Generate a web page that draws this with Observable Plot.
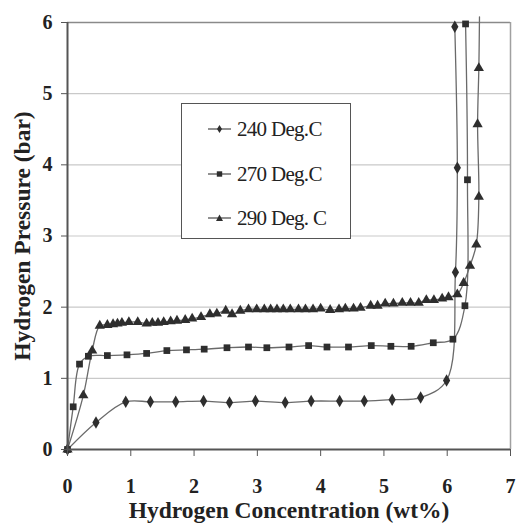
<!DOCTYPE html>
<html>
<head>
<meta charset="utf-8">
<script src="https://cdn.jsdelivr.net/npm/d3@7"></script>
<script src="https://cdn.jsdelivr.net/npm/@observablehq/plot@0.6"></script>
<style>
  body { margin: 0; background: #fff; }
  #chart { position: relative; width: 516px; height: 523px; }
  .legend {
    position: absolute; left: 181px; top: 103px; width: 170px; height: 136px;
    border: 1.5px solid #555; background: #fff; box-sizing: border-box;
    font-family: "Liberation Serif", "Times New Roman", serif; font-size: 21px; color: #222;
  }
  .legend .row { position: absolute; left: 26px; display: flex; align-items: center; height: 24px; letter-spacing: -0.7px; }
  .legend svg { margin-right: 5px; }
</style>
</head>
<body>
<div id="chart"></div>
<script>
// Pressure–composition isotherms (absorption) at three temperatures
const series = ["240 Deg.C", "270 Deg.C", "290 Deg. C"];
const symbols = ["diamond", "square", "triangle"];

const x240 = [0, 0.45, 0.92, 1.31, 1.71, 2.15, 2.56, 2.97, 3.44, 3.85, 4.30, 4.69, 5.13, 5.58, 5.99, 6.13, 6.16, 6.12];
const y240 = [0, 0.38, 0.67, 0.67, 0.67, 0.68, 0.66, 0.68, 0.66, 0.68, 0.68, 0.68, 0.70, 0.73, 0.97, 2.49, 3.96, 5.94];

const x270 = [0, 0.09, 0.19, 0.33, 0.63, 0.94, 1.25, 1.57, 1.88, 2.16, 2.52, 2.86, 3.15, 3.50, 3.81, 4.10, 4.44, 4.80, 5.11, 5.43, 5.78, 6.09, 6.28, 6.32, 6.29];
const y270 = [0, 0.60, 1.20, 1.31, 1.32, 1.33, 1.35, 1.39, 1.40, 1.41, 1.43, 1.44, 1.43, 1.44, 1.46, 1.44, 1.44, 1.46, 1.45, 1.45, 1.50, 1.55, 2.02, 3.79, 5.98];

const x290 = [0, 0.25, 0.39, 0.51, 0.63, 0.72, 0.79, 0.86, 0.97, 1.11, 1.25, 1.34, 1.43, 1.52, 1.63, 1.73, 1.86, 1.97, 2.11, 2.25, 2.36, 2.50, 2.60, 2.73, 2.86, 2.99, 3.11, 3.21, 3.31, 3.41, 3.52, 3.65, 3.76, 3.88, 4.00, 4.15, 4.29, 4.39, 4.52, 4.63, 4.79, 4.90, 5.02, 5.15, 5.29, 5.42, 5.55, 5.67, 5.79, 5.92, 6.02, 6.16, 6.26, 6.36, 6.46, 6.50, 6.48, 6.50];
const y290 = [0, 0.76, 1.39, 1.74, 1.75, 1.76, 1.77, 1.78, 1.79, 1.79, 1.77, 1.78, 1.78, 1.79, 1.80, 1.81, 1.82, 1.84, 1.86, 1.90, 1.91, 1.95, 1.90, 1.95, 1.97, 1.97, 1.97, 1.97, 1.97, 1.97, 1.97, 1.97, 1.97, 1.97, 1.98, 1.96, 1.97, 1.98, 1.98, 1.99, 2.02, 2.02, 2.05, 2.05, 2.06, 2.06, 2.06, 2.10, 2.10, 2.12, 2.14, 2.18, 2.34, 2.58, 2.88, 3.55, 4.57, 5.36];
// the 290 °C trace runs on past the top of the axis
const x290tail = [6.51];
const y290tail = [6.08];

const xTicks = [0, 1, 2, 3, 4, 5, 6, 7];
const yTicks = [0, 1, 2, 3, 4, 5, 6];

const toRows = (xs, ys, s) => xs.map((x, i) => ({x, y: ys[i], s}));
const pts = [
  ...toRows(x240, y240, series[0]),
  ...toRows(x270, y270, series[1]),
  ...toRows(x290, y290, series[2])
];
const linePts = [...pts, ...toRows(x290tail, y290tail, series[2])];

const serif = "'Liberation Serif', 'Times New Roman', serif";

const chart = Plot.plot({
  width: 516,
  height: 523,
  marginLeft: 67,
  marginRight: 6,
  marginTop: 22,
  marginBottom: 74,
  x: {domain: [0, 7]},
  y: {domain: [0, 6]},
  symbol: {domain: series, range: symbols},
  style: {fontFamily: serif, background: "#fff", color: "#222"},
  marks: [
    Plot.gridY(yTicks.filter(d => d > 0 && d < 6), {stroke: "#c9c9c9", strokeOpacity: 1, strokeWidth: 1.2}),
    Plot.ruleY([6], {stroke: "#8a8a8a", strokeWidth: 1.5}),
    Plot.ruleX([7], {stroke: "#a0a0a0", strokeWidth: 1.5}),
    Plot.line(linePts, {x: "x", y: "y", z: "s", stroke: "#6a6a6a", strokeWidth: 1.3, curve: "catmull-rom"}),
    Plot.dot(pts, {x: "x", y: "y", symbol: "s", fill: "#2e2e2e", stroke: "none", r: 3.8}),
    Plot.ruleX([0], {stroke: "#555", strokeWidth: 2}),
    Plot.ruleY([0], {stroke: "#555", strokeWidth: 2}),
    Plot.axisX({
      ticks: xTicks, tickFormat: d => String(d), tickSize: 7, tickPadding: 22, stroke: "#555",
      fontSize: 20, fontWeight: "bold", fill: "#222",
      label: "Hydrogen Concentration (wt%)", labelAnchor: "center", labelArrow: "none", labelOffset: 68
    }),
    Plot.axisY({
      ticks: yTicks, tickFormat: d => String(d), tickSize: 6, tickPadding: 9, stroke: "#555",
      fontSize: 20, fontWeight: "bold", fill: "#222",
      label: "Hydrogen Pressure (bar)", labelAnchor: "center", labelArrow: "none", labelOffset: 54
    })
  ]
});

// axis titles share the tick font but slightly larger
chart.querySelectorAll("g[aria-label='x-axis label'] text, g[aria-label='y-axis label'] text")
  .forEach(t => { t.setAttribute("font-size", 23.5); t.setAttribute("font-weight", "bold"); });

const root = document.getElementById("chart");
root.appendChild(chart);

// legend box
const legend = document.createElement("div");
legend.className = "legend";
const rowTops = [13, 58, 102];
const shape = {
  diamond: '<path d="M11.5,8 L14,12 L11.5,16 L9,12Z" fill="#2e2e2e"/>',
  square: '<rect x="8.8" y="9.3" width="5.4" height="5.4" fill="#2e2e2e"/>',
  triangle: '<path d="M11.5,8.5 L15,15 L8,15Z" fill="#2e2e2e"/>'
};
series.forEach((name, i) => {
  const row = document.createElement("div");
  row.className = "row";
  row.style.top = rowTops[i] + "px";
  row.innerHTML =
    `<svg width="24" height="24"><line x1="0" x2="23" y1="12" y2="12" stroke="#555" stroke-width="1.3"/>${shape[symbols[i]]}</svg>` +
    `<span>${name}</span>`;
  legend.appendChild(row);
});
root.appendChild(legend);
</script>
</body>
</html>
